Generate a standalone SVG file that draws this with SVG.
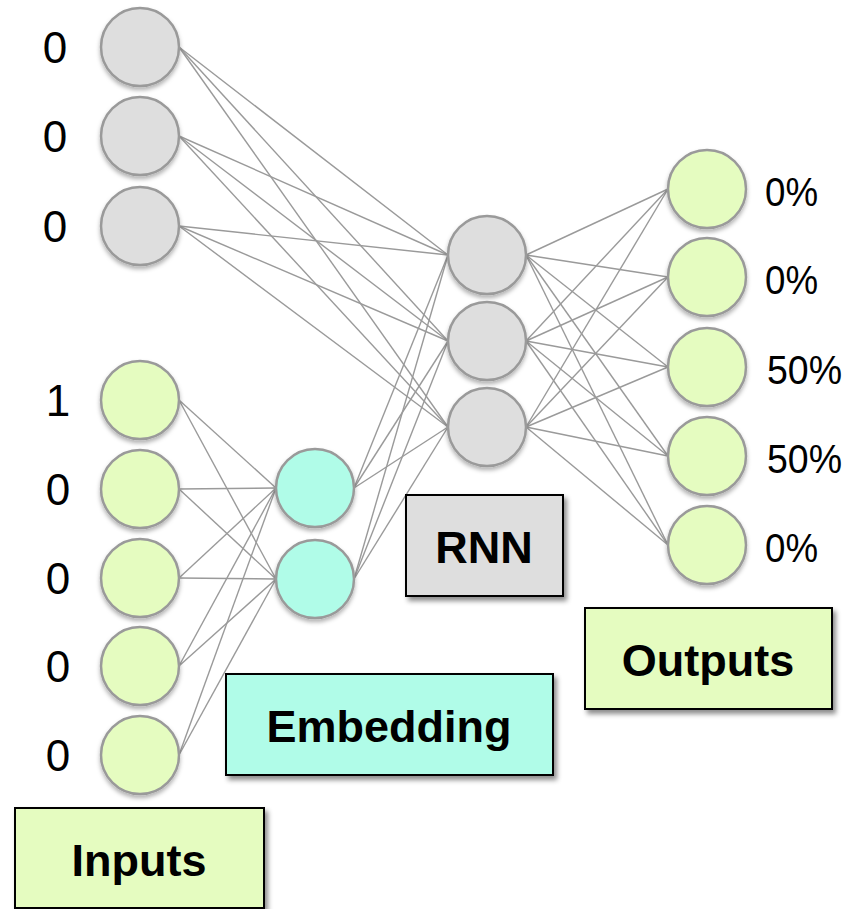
<svg xmlns="http://www.w3.org/2000/svg" width="852" height="909" viewBox="0 0 852 909">
<defs>
<filter id="sh" x="-30%" y="-30%" width="160%" height="160%"><feDropShadow dx="0" dy="3" stdDeviation="2" flood-color="#000" flood-opacity="0.3"/></filter>
<filter id="bsh" x="-10%" y="-10%" width="130%" height="130%"><feDropShadow dx="3" dy="4" stdDeviation="2.5" flood-color="#000" flood-opacity="0.45"/></filter>
</defs>
<style>
.gray{fill:#dedede;stroke:#9a9a9a;stroke-width:2.5}
.green{fill:#e5fcc0;stroke:#9a9a9a;stroke-width:2.5}
.cyan{fill:#b0fce8;stroke:#9a9a9a;stroke-width:2.5}
circle{filter:url(#sh)}
.box{stroke:#000;stroke-width:2;filter:url(#bsh)}
.lbl{font-family:"Liberation Sans",Arial,sans-serif;font-size:44px;fill:#000}
.pct{font-family:"Liberation Sans",Arial,sans-serif;font-size:41px;fill:#000}
.title{font-family:"Liberation Sans",Arial,sans-serif;font-size:45px;font-weight:bold;fill:#000;text-anchor:middle}
#connectors line{stroke:#9a9a9a;stroke-width:1.4}
</style>
<rect width="852" height="909" fill="#fff"/>
<g id="connectors">
<line x1="179" y1="47" x2="448" y2="255"/><line x1="179" y1="47" x2="448" y2="341"/><line x1="179" y1="47" x2="448" y2="427"/>
<line x1="179" y1="136" x2="448" y2="255"/><line x1="179" y1="136" x2="448" y2="341"/><line x1="179" y1="136" x2="448" y2="427"/>
<line x1="179" y1="226" x2="448" y2="255"/><line x1="179" y1="226" x2="448" y2="341"/><line x1="179" y1="226" x2="448" y2="427"/>
<line x1="179" y1="400" x2="276" y2="488"/><line x1="179" y1="400" x2="276" y2="579"/>
<line x1="179" y1="489" x2="276" y2="488"/><line x1="179" y1="489" x2="276" y2="579"/>
<line x1="179" y1="578" x2="276" y2="488"/><line x1="179" y1="578" x2="276" y2="579"/>
<line x1="179" y1="666" x2="276" y2="488"/><line x1="179" y1="666" x2="276" y2="579"/>
<line x1="179" y1="755" x2="276" y2="488"/><line x1="179" y1="755" x2="276" y2="579"/>
<line x1="354" y1="488" x2="448" y2="255"/><line x1="354" y1="488" x2="448" y2="341"/><line x1="354" y1="488" x2="448" y2="427"/>
<line x1="354" y1="579" x2="448" y2="255"/><line x1="354" y1="579" x2="448" y2="341"/><line x1="354" y1="579" x2="448" y2="427"/>
<line x1="526" y1="255" x2="668" y2="189"/><line x1="526" y1="255" x2="668" y2="277"/><line x1="526" y1="255" x2="668" y2="367"/><line x1="526" y1="255" x2="668" y2="456"/><line x1="526" y1="255" x2="668" y2="545"/>
<line x1="526" y1="341" x2="668" y2="189"/><line x1="526" y1="341" x2="668" y2="277"/><line x1="526" y1="341" x2="668" y2="367"/><line x1="526" y1="341" x2="668" y2="456"/><line x1="526" y1="341" x2="668" y2="545"/>
<line x1="526" y1="427" x2="668" y2="189"/><line x1="526" y1="427" x2="668" y2="277"/><line x1="526" y1="427" x2="668" y2="367"/><line x1="526" y1="427" x2="668" y2="456"/><line x1="526" y1="427" x2="668" y2="545"/>
</g>
<g id="state1"><circle class="gray" cx="140" cy="47" r="39"/><text class="lbl" x="55" y="63" text-anchor="middle">0</text></g>
<g id="state2"><circle class="gray" cx="140" cy="136" r="39"/><text class="lbl" x="55" y="152" text-anchor="middle">0</text></g>
<g id="state3"><circle class="gray" cx="140" cy="226" r="39"/><text class="lbl" x="55" y="242" text-anchor="middle">0</text></g>
<g id="in1"><circle class="green" cx="140" cy="400" r="39"/><text class="lbl" x="58" y="416" text-anchor="middle">1</text></g>
<g id="in2"><circle class="green" cx="140" cy="489" r="39"/><text class="lbl" x="58" y="505" text-anchor="middle">0</text></g>
<g id="in3"><circle class="green" cx="140" cy="578" r="39"/><text class="lbl" x="58" y="594" text-anchor="middle">0</text></g>
<g id="in4"><circle class="green" cx="140" cy="666" r="39"/><text class="lbl" x="58" y="682" text-anchor="middle">0</text></g>
<g id="in5"><circle class="green" cx="140" cy="755" r="39"/><text class="lbl" x="58" y="771" text-anchor="middle">0</text></g>
<g id="emb1"><circle class="cyan" cx="315" cy="488" r="39"/></g>
<g id="emb2"><circle class="cyan" cx="315" cy="579" r="39"/></g>
<g id="rnn1"><circle class="gray" cx="487" cy="255" r="39"/></g>
<g id="rnn2"><circle class="gray" cx="487" cy="341" r="39"/></g>
<g id="rnn3"><circle class="gray" cx="487" cy="427" r="39"/></g>
<g id="out1"><circle class="green" cx="707" cy="189" r="39"/><text class="pct" x="765" y="206" textLength="53" lengthAdjust="spacingAndGlyphs">0%</text></g>
<g id="out2"><circle class="green" cx="707" cy="277" r="39"/><text class="pct" x="765" y="294" textLength="53" lengthAdjust="spacingAndGlyphs">0%</text></g>
<g id="out3"><circle class="green" cx="707" cy="367" r="39"/><text class="pct" x="767" y="384" textLength="75" lengthAdjust="spacingAndGlyphs">50%</text></g>
<g id="out4"><circle class="green" cx="707" cy="456" r="39"/><text class="pct" x="767" y="473" textLength="75" lengthAdjust="spacingAndGlyphs">50%</text></g>
<g id="out5"><circle class="green" cx="707" cy="545" r="39"/><text class="pct" x="765" y="562" textLength="53" lengthAdjust="spacingAndGlyphs">0%</text></g>
<g id="rnn-box"><rect class="box" x="406" y="495" width="157" height="101" fill="#dedede"/><text class="title" x="484" y="563">RNN</text></g>
<g id="outputs-box"><rect class="box" x="585" y="608" width="247" height="101" fill="#e5fcc0"/><text class="title" x="708" y="676">Outputs</text></g>
<g id="embedding-box"><rect class="box" x="226" y="674" width="327" height="101" fill="#b0fce8"/><text class="title" x="389" y="742">Embedding</text></g>
<g id="inputs-box"><rect class="box" x="15" y="808" width="249" height="100" fill="#e5fcc0"/><text class="title" x="139" y="876">Inputs</text></g>
</svg>
